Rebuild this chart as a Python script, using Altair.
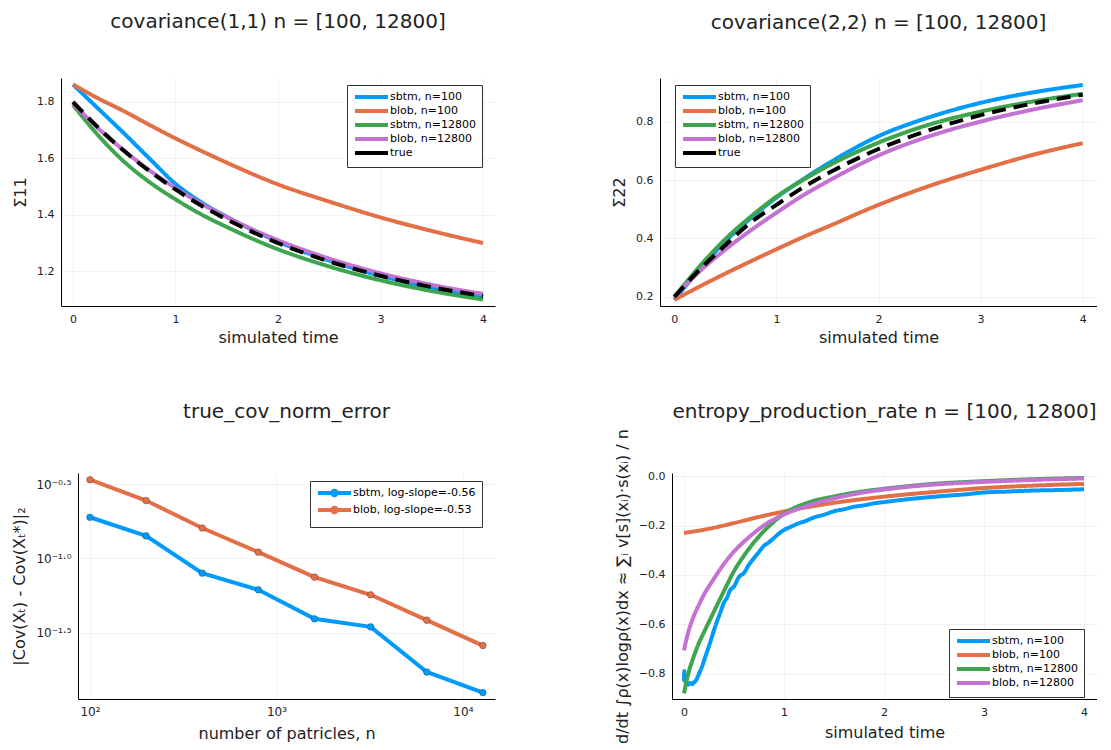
import altair as alt
import pandas as pd

FONT = "DejaVu Sans"
TXT = "#222222"

SERIES = ["sbtm, n=100", "blob, n=100", "sbtm, n=12800", "blob, n=12800", "true"]
COLORS = ["#009AFA", "#E36F47", "#3EA44E", "#C371D2", "#000000"]

# ---------------- covariance(1,1) ----------------
cov_t = [0.0, 0.25, 0.5, 0.75, 1.0, 1.25, 1.5, 2.0, 2.5, 3.0, 3.5, 4.0]
c11_sbtm100 = [1.862, 1.775, 1.688, 1.598, 1.510, 1.445, 1.393, 1.305, 1.238, 1.184, 1.142, 1.110]
c11_blob100 = [1.862, 1.812, 1.767, 1.718, 1.671, 1.627, 1.585, 1.508, 1.447, 1.391, 1.343, 1.300]
c11_sbtm12800 = [1.790, 1.680, 1.588, 1.515, 1.455, 1.402, 1.357, 1.278, 1.217, 1.168, 1.130, 1.100]
c11_blob12800 = [1.795, 1.705, 1.627, 1.557, 1.495, 1.440, 1.392, 1.310, 1.245, 1.193, 1.152, 1.120]
c11_true = [1.800, 1.708, 1.626, 1.554, 1.490, 1.433, 1.384, 1.300, 1.235, 1.184, 1.144, 1.112]

# ---------------- covariance(2,2) ----------------
c22_sbtm100 = [0.190, 0.295, 0.390, 0.470, 0.540, 0.600, 0.655, 0.750, 0.815, 0.864, 0.899, 0.925]
c22_blob100 = [0.190, 0.236, 0.280, 0.322, 0.363, 0.403, 0.440, 0.515, 0.580, 0.635, 0.685, 0.726]
c22_sbtm12800 = [0.200, 0.305, 0.398, 0.475, 0.543, 0.598, 0.647, 0.728, 0.790, 0.834, 0.868, 0.895]
c22_blob12800 = [0.200, 0.288, 0.362, 0.428, 0.488, 0.545, 0.595, 0.684, 0.750, 0.800, 0.840, 0.873]
c22_true = [0.200, 0.294, 0.377, 0.455, 0.515, 0.572, 0.622, 0.706, 0.771, 0.822, 0.861, 0.892]

# ---------------- true_cov_norm_error ----------------
ERR_SERIES = ["sbtm, log-slope=-0.56", "blob, log-slope=-0.53"]
err_n = [100, 200, 400, 800, 1600, 3200, 6400, 12800]
err_sbtm = [0.189, 0.1416, 0.0796, 0.0615, 0.0392, 0.0346, 0.0172, 0.0125]
err_blob = [0.338, 0.245, 0.160, 0.110, 0.0748, 0.0569, 0.0384, 0.0259]

# ---------------- entropy_production_rate ----------------
ep_sbtm100_t = [0.0, 0.003, 0.008, 0.02, 0.04, 0.06, 0.08, 0.1, 0.12, 0.15, 0.18, 0.2, 0.23, 0.26,
                0.3, 0.33, 0.36, 0.4, 0.43, 0.46, 0.5, 0.55, 0.6, 0.65, 0.7, 0.75, 0.8, 0.85, 0.9,
                0.95, 1.0, 1.05, 1.1, 1.15, 1.2, 1.3, 1.4, 1.5, 1.6, 1.7, 1.8, 1.9, 2.0, 2.2, 2.4,
                2.6, 2.8, 3.0, 3.25, 3.5, 3.75, 4.0]
ep_sbtm100 = [-0.830, -0.790, -0.825, -0.838, -0.845, -0.838, -0.843, -0.836, -0.828, -0.800, -0.772,
              -0.748, -0.712, -0.676, -0.624, -0.588, -0.556, -0.512, -0.492, -0.463, -0.447, -0.408,
              -0.392, -0.358, -0.332, -0.307, -0.282, -0.268, -0.250, -0.232, -0.218, -0.208, -0.199,
              -0.190, -0.184, -0.167, -0.156, -0.142, -0.134, -0.124, -0.118, -0.110, -0.105, -0.095,
              -0.087, -0.080, -0.074, -0.066, -0.062, -0.058, -0.056, -0.053]
ep_blob100_t = [0.0, 0.25, 0.5, 0.75, 1.0, 1.25, 1.5, 2.0, 2.5, 3.0, 3.5, 4.0]
ep_blob100 = [-0.230, -0.213, -0.190, -0.165, -0.143, -0.124, -0.108, -0.083, -0.064, -0.048, -0.038, -0.031]
ep_sbtm12800_t = [0.0, 0.02, 0.05, 0.1, 0.15, 0.2, 0.25, 0.3, 0.4, 0.5, 0.6, 0.7, 0.8, 0.9, 1.0,
                  1.25, 1.5, 1.75, 2.0, 2.5, 3.0, 3.5, 4.0]
ep_sbtm12800 = [-0.880, -0.840, -0.790, -0.728, -0.675, -0.632, -0.590, -0.548, -0.465, -0.385, -0.322,
                -0.268, -0.222, -0.184, -0.152, -0.106, -0.082, -0.064, -0.051, -0.031, -0.020, -0.012, -0.007]
ep_blob12800_t = [0.0, 0.02, 0.05, 0.1, 0.15, 0.2, 0.3, 0.4, 0.5, 0.6, 0.7, 0.8, 0.9, 1.0,
                  1.25, 1.5, 1.75, 2.0, 2.5, 3.0, 3.5, 4.0]
ep_blob12800 = [-0.706, -0.668, -0.622, -0.565, -0.520, -0.480, -0.415, -0.355, -0.305, -0.265, -0.230,
                -0.199, -0.175, -0.155, -0.118, -0.090, -0.069, -0.054, -0.034, -0.023, -0.015, -0.009]


def long_df(items):
    rows = []
    for name, ts, vs in items:
        for t, v in zip(ts, vs):
            rows.append({"t": t, "v": v, "series": name,
                         "dash": "dash" if name == "true" else "solid"})
    return pd.DataFrame(rows)


# legend symbols: symbolSize 64 -> unit = 4px; line 33px long
LINE_SYM = "M-1,0H7.25"
MARK_SYM = "M-1,0H7.25M3.675,0A0.55,0.55,0,1,1,2.575,0A0.55,0.55,0,1,1,3.675,0"


def legend(x, y, sym=LINE_SYM, row_pad=-5):
    return alt.Legend(orient="none", legendX=x, legendY=y, title=None,
                      symbolType=sym, symbolSize=64, symbolStrokeWidth=4,
                      labelOffset=25, labelFontSize=11, labelFont=FONT, labelColor="#000",
                      padding=6, rowPadding=row_pad, fillColor="white", strokeColor="#333333",
                      cornerRadius=0)


def title(text, offset):
    return alt.TitleParams(text, fontSize=20, font=FONT, fontWeight="normal", color=TXT,
                           anchor="middle", offset=offset)


def time_panel(df, ttl, toff, ytitle, xdom, ydom, yvals, w, h, leg, series, colors, xtp):
    return alt.Chart(df).mark_line(strokeWidth=4, interpolate="monotone", strokeCap="butt").encode(
        x=alt.X("t:Q", scale=alt.Scale(domain=xdom, nice=False, zero=False),
                axis=alt.Axis(values=[0, 1, 2, 3, 4], format="d", title="simulated time",
                              titlePadding=xtp)),
        y=alt.Y("v:Q", scale=alt.Scale(domain=ydom, nice=False, zero=False),
                axis=alt.Axis(values=yvals, format=".1f", title=ytitle)),
        color=alt.Color("series:N", scale=alt.Scale(domain=series, range=colors), legend=leg),
        strokeDash=alt.StrokeDash("dash:N", scale=alt.Scale(domain=["solid", "dash"],
                                                            range=[[1, 0], [14, 8]]), legend=None),
    ).properties(width=w, height=h, title=title(ttl, toff))


df11 = long_df([
    (SERIES[0], cov_t, c11_sbtm100), (SERIES[1], cov_t, c11_blob100),
    (SERIES[2], cov_t, c11_sbtm12800), (SERIES[3], cov_t, c11_blob12800),
    (SERIES[4], cov_t, c11_true)])
df22 = long_df([
    (SERIES[0], cov_t, c22_sbtm100), (SERIES[1], cov_t, c22_blob100),
    (SERIES[2], cov_t, c22_sbtm12800), (SERIES[3], cov_t, c22_blob12800),
    (SERIES[4], cov_t, c22_true)])
dfep = long_df([
    (SERIES[0], ep_sbtm100_t, ep_sbtm100), (SERIES[1], ep_blob100_t, ep_blob100),
    (SERIES[2], ep_sbtm12800_t, ep_sbtm12800), (SERIES[3], ep_blob12800_t, ep_blob12800)])

p1 = time_panel(df11, "covariance(1,1) n = [100, 12800]", 44, "Σ11", [-0.117, 4.117], [1.077, 1.885],
                [1.2, 1.4, 1.6, 1.8], 434, 228, legend(286, 7), SERIES, COLORS, 5)
p2 = time_panel(df22, "covariance(2,2) n = [100, 12800]", 44, "Σ22", [-0.14, 4.14], [0.169, 0.949],
                [0.2, 0.4, 0.6, 0.8], 437, 228, legend(15, 7), SERIES, COLORS, 5)
p4 = time_panel(dfep, "entropy_production_rate n = [100, 12800]", 7,
                "d/dt ∫ρ(x)logρ(x)dx ≈ ∑ᵢ v[s](xᵢ)·s(xᵢ) / n", [-0.12, 4.13], [-0.903, 0.013],
                [0.0, -0.2, -0.4, -0.6, -0.8], 425, 226, legend(277, 156), SERIES[:4], COLORS[:4], 7)

# error panel
err_rows = []
for name, vals in [(ERR_SERIES[0], err_sbtm), (ERR_SERIES[1], err_blob)]:
    for n, v in zip(err_n, vals):
        err_rows.append({"n": n, "err": v, "series": name})
dferr = pd.DataFrame(err_rows)

ex = alt.X("n:Q", scale=alt.Scale(type="log", domain=[86.3, 14860], nice=False),
           axis=alt.Axis(values=[100, 1000, 10000], title="number of patricles, n", labelFontSize=12,
                         labelExpr="datum.value < 500 ? '10²' : datum.value < 5000 ? '10³' : '10⁴'"))
ey = alt.Y("err:Q", scale=alt.Scale(type="log", domain=[0.01132, 0.3752], nice=False),
           axis=alt.Axis(values=[0.0316228, 0.1, 0.316228], title="|Cov(Xₜ) - Cov(Xₜ*)|₂", labelFontSize=12,
                         labelExpr="datum.value > 0.2 ? '10⁻⁰·⁵' : datum.value > 0.05 ? '10⁻¹·⁰' : '10⁻¹·⁵'"))
eline = alt.Chart(dferr).mark_line(strokeWidth=4).encode(
    x=ex, y=ey,
    color=alt.Color("series:N", scale=alt.Scale(domain=ERR_SERIES, range=COLORS[:2]),
                    legend=legend(232, 8, MARK_SYM, -15)))
epts = alt.Chart(dferr).mark_circle(size=45, opacity=1, stroke="#333333", strokeWidth=0.6,
                                    strokeOpacity=0.6).encode(
    x=ex, y=ey,
    color=alt.Color("series:N", scale=alt.Scale(domain=ERR_SERIES, range=COLORS[:2]), legend=None))
p3 = alt.layer(eline, epts).properties(width=417, height=226, title=title("true_cov_norm_error", 50))

# invisible 1px spacer that shifts the lower row to the right
spacer_df = pd.DataFrame({"a": [0]})
spacer = alt.Chart(spacer_df).mark_point(opacity=0).encode(
    x=alt.X("a:Q", axis=None), y=alt.Y("a:Q", axis=None)).properties(width=1, height=1)

top = alt.hconcat(p1, p2, spacing=165, bounds="flush").resolve_scale(
    color="independent", strokeDash="independent").resolve_legend(color="independent")
bot_inner = alt.hconcat(p3, p4, spacing=177, bounds="flush").resolve_scale(
    color="independent", strokeDash="independent").resolve_legend(color="independent")
bot = alt.hconcat(spacer, bot_inner, spacing=16, bounds="flush").resolve_scale(
    color="independent", strokeDash="independent").resolve_legend(color="independent")

chart = alt.vconcat(top, bot, spacing=56).resolve_scale(
    color="independent", strokeDash="independent").resolve_legend(color="independent").properties(
    padding={"left": 3, "top": 4, "right": 0, "bottom": 0}
).configure_view(stroke=None).configure_axis(
    domainColor="#000", domainWidth=1, grid=True, gridColor="#000", gridOpacity=0.1, gridWidth=0.5,
    ticks=False, labelFont=FONT, labelFontSize=11, labelColor=TXT, labelPadding=7,
    titleFont=FONT, titleFontSize=16, titleFontWeight="normal", titleColor=TXT, titlePadding=8
).configure_legend(labelFont=FONT)

chart.save("out.html", embed_options={"renderer": "svg", "actions": False})
